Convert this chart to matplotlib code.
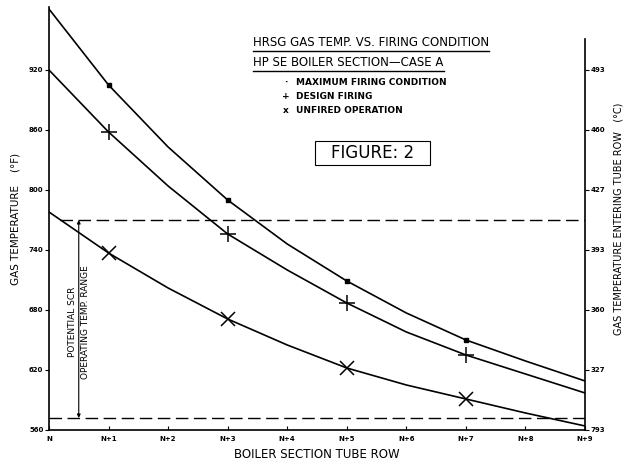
import numpy as np
import matplotlib
matplotlib.use("Agg")
import matplotlib.pyplot as plt
from matplotlib.patches import Rectangle
from matplotlib.lines import Line2D

# tube rows N .. N+9
rows = np.arange(10)
row_labels = ['N', 'N+1', 'N+2', 'N+3', 'N+4', 'N+5', 'N+6', 'N+7', 'N+8', 'N+9']

# gas temperature (deg F)
t_max_firing = [981, 905, 843, 790, 746, 709, 677, 650, 629, 609]
t_design = [920, 858, 804, 756, 720, 687, 658, 635, 616, 597]
t_unfired = [778, 737, 702, 671, 645, 622, 605, 591, 577, 564]
marker_rows = [1, 3, 5, 7]

# SCR window (deg F)
scr_low = 572
scr_high = 770

left_ticks = [560, 620, 680, 740, 800, 860, 920]
right_labels = ['793', '327', '360', '393', '427', '460', '493']

plt.rcParams['font.family'] = ['DejaVu Sans']

fig = plt.figure(figsize=(6.27, 4.63), dpi=100)
ax = fig.add_axes([0.0781, 0.0713, 0.855, 0.9136])
ax.set_xlim(0, 9)
ax.set_ylim(560, 983)

lw = 1.2
for t in (t_max_firing, t_design, t_unfired):
    ax.plot(rows, t, color='black', lw=lw, solid_joinstyle='round')

mx = np.array(marker_rows)
ax.plot(mx, np.array(t_max_firing)[mx], ls='none', marker='s', ms=3.5, color='black')
ax.plot(mx, np.array(t_design)[mx], ls='none', marker='+', ms=12, mew=1.1, color='black')
ax.plot(mx, np.array(t_unfired)[mx], ls='none', marker='x', ms=10, mew=1.1, color='black')

# SCR operating range
ax.axhline(scr_high, xmin=0.02, color='black', lw=1.0, ls=(0, (9, 4)))
ax.axhline(scr_low, color='black', lw=1.0, ls=(0, (9, 4)))
ax.annotate('', xy=(0.5, scr_high), xytext=(0.5, scr_low),
            arrowprops=dict(arrowstyle='<|-|>', color='black', lw=0.8,
                            mutation_scale=5, shrinkA=0, shrinkB=0))
mid = (scr_low + scr_high) / 2 - 3
ax.text(0.39, mid, 'POTENTIAL SCR', rotation=90, ha='center', va='center',
        fontsize=6.5)
ax.text(0.62, mid, 'OPERATING TEMP. RANGE', rotation=90, ha='center', va='center',
        fontsize=6.5)

# axes styling
ax.spines['top'].set_visible(False)
ax.spines['right'].set_visible(False)
for s in ['left', 'bottom']:
    ax.spines[s].set_linewidth(1.2)
ax.set_xticks(rows)
ax.set_xticklabels(row_labels, fontsize=5, fontweight='bold')
ax.tick_params(axis='x', direction='in', length=3, pad=4)
ax.set_yticks(left_ticks)
ax.set_yticklabels([str(v) for v in left_ticks], fontsize=5, fontweight='bold')
ax.tick_params(axis='y', direction='out', length=3, pad=1)
ax.set_xlabel('BOILER SECTION TUBE ROW', fontsize=8.5, labelpad=5)
ax.set_ylabel('GAS TEMPERATURE    (°F)', fontsize=7.5, labelpad=6)

ax2 = ax.twinx()
ax2.set_ylim(ax.get_ylim())
ax2.set_yticks(left_ticks)
ax2.set_yticklabels(right_labels, fontsize=5, fontweight='bold')
ax2.tick_params(axis='y', direction='out', length=3, pad=1)
for s in ['top', 'left', 'bottom']:
    ax2.spines[s].set_visible(False)
ax2.spines['right'].set_bounds(560, 951)
ax2.spines['right'].set_linewidth(1.2)
ax2.set_ylabel('GAS TEMPERATURE ENTERING TUBE ROW   (°C)', fontsize=7, labelpad=6)

# title block
t1 = ax.text(3.43, 947, 'HRSG GAS TEMP. VS. FIRING CONDITION', fontsize=8.5,
             va='center', ha='left')
t2 = ax.text(3.43, 927, 'HP SE BOILER SECTION\u2014CASE A', fontsize=8.5,
             va='center', ha='left')

legend_items = [('·', 'MAXIMUM FIRING CONDITION'),
                ('+', 'DESIGN FIRING'),
                ('x', 'UNFIRED OPERATION')]
for i, (sym, lab) in enumerate(legend_items):
    y = 907 - i * 14
    ax.text(3.97, y, sym, fontsize=6.5, fontweight='bold', ha='center', va='center')
    ax.text(4.15, y, lab, fontsize=6.5, fontweight='bold', ha='left', va='center')

fig_txt = ax.text(5.43, 837, 'FIGURE: 2', fontsize=12, ha='center', va='center')

fig.canvas.draw()
inv = fig.transFigure.inverted()
for t in (t1, t2):
    bb = t.get_window_extent()
    (x0, y0), (x1, y1) = inv.transform([(bb.x0, bb.y0 - 2), (bb.x1, bb.y0 - 2)])
    fig.add_artist(Line2D([x0, x1], [y0, y1], transform=fig.transFigure,
                          color='black', lw=1.0))
bb = fig_txt.get_window_extent()
(x0, y0), (x1, y1) = inv.transform([(bb.x0 - 16, bb.y0 - 3), (bb.x1 + 16, bb.y1 + 3)])
fig.add_artist(Rectangle((x0, y0), x1 - x0, y1 - y0, transform=fig.transFigure,
                         fill=False, ec='black', lw=0.8))

fig.savefig('out.png', dpi=100)
